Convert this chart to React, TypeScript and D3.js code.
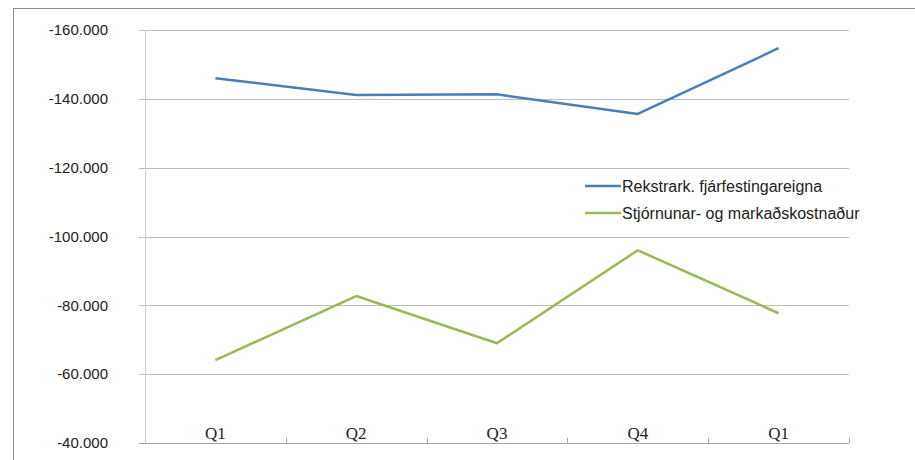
import { useEffect, useRef } from "react";
import * as d3 from "d3";

const categories = ["Q1", "Q2", "Q3", "Q4", "Q1 "];
const seriesNames = ["Rekstrark. fjárfestingareigna", "Stjórnunar- og markaðskostnaður"];
const rekstrarkostnadur = [-146.0, -141.1, -141.3, -135.6, -154.7];
const stjornunarkostnadur = [-64.1, -82.7, -69.0, -96.0, -77.7];
const yTicks = [-160, -140, -120, -100, -80, -60, -40];
const colors = ["#4a7ebb", "#98b954"];

export default function App() {
  const svgRef = useRef<SVGSVGElement>(null);

  useEffect(() => {
    if (!svgRef.current) return;
    const width = 915;
    const height = 460;
    const margin = { top: 30, right: 66, bottom: 17, left: 145 };

    const svg = d3.select(svgRef.current);
    svg.selectAll("*").remove();

    // outer chart border
    svg
      .append("rect")
      .attr("x", 13.5)
      .attr("y", 8.5)
      .attr("width", width)
      .attr("height", height)
      .attr("fill", "white")
      .attr("stroke", "#8c8c8c");

    const x = d3
      .scaleBand<string>()
      .domain(categories)
      .range([margin.left, width - margin.right]);

    const y = d3
      .scaleLinear()
      .domain([-40, -160])
      .range([height - margin.bottom, margin.top]);

    // gridlines
    svg
      .append("g")
      .selectAll("line")
      .data(yTicks)
      .join("line")
      .attr("x1", margin.left - 6)
      .attr("x2", width - margin.right)
      .attr("y1", (d) => Math.round(y(d)) + 0.5)
      .attr("y2", (d) => Math.round(y(d)) + 0.5)
      .attr("stroke", (d) => (d === -40 ? "#a6a6a6" : "#bdbdbd"));

    // y axis line
    svg
      .append("line")
      .attr("x1", margin.left + 0.5)
      .attr("x2", margin.left + 0.5)
      .attr("y1", margin.top)
      .attr("y2", height - margin.bottom)
      .attr("stroke", "#d0d0d0");

    // y labels
    svg
      .append("g")
      .selectAll("text")
      .data(yTicks)
      .join("text")
      .attr("x", 108)
      .attr("y", (d) => y(d))
      .attr("dy", "0.35em")
      .attr("text-anchor", "end")
      .attr("font-family", "Liberation Sans, Arial, sans-serif")
      .attr("font-size", 15)
      .attr("fill", "#222")
      .text((d) => `${d}.000`);

    // x ticks on the axis (pointing up)
    const bounds = categories.map((c) => x(c)! + x.bandwidth());
    svg
      .append("g")
      .selectAll("line")
      .data(bounds)
      .join("line")
      .attr("x1", (d) => Math.round(d) + 0.5)
      .attr("x2", (d) => Math.round(d) + 0.5)
      .attr("y1", y(-40) - 5)
      .attr("y2", y(-40))
      .attr("stroke", "#a6a6a6");

    // x labels
    svg
      .append("g")
      .selectAll("text")
      .data(categories)
      .join("text")
      .attr("x", (d) => x(d)! + x.bandwidth() / 2)
      .attr("y", y(-40) - 4)
      .attr("text-anchor", "middle")
      .attr("font-family", "Liberation Serif, Times New Roman, serif")
      .attr("font-size", 17)
      .attr("fill", "#222")
      .text((d) => d.trim());

    const line = d3
      .line<number>()
      .x((d, i) => x(categories[i])! + x.bandwidth() / 2)
      .y((d) => y(d));

    [rekstrarkostnadur, stjornunarkostnadur].forEach((series, i) => {
      svg
        .append("path")
        .datum(series)
        .attr("fill", "none")
        .attr("stroke", colors[i])
        .attr("stroke-width", 2.5)
        .attr("stroke-linejoin", "round")
        .attr("d", line);
    });

    // legend
    const legend = svg.append("g").attr("transform", "translate(583,173)");
    legend
      .append("rect")
      .attr("x", -3)
      .attr("y", 0)
      .attr("width", 285)
      .attr("height", 54)
      .attr("fill", "white");
    seriesNames.forEach((name, i) => {
      const ly = 13 + i * 27;
      legend
        .append("line")
        .attr("x1", 2)
        .attr("x2", 38)
        .attr("y1", ly)
        .attr("y2", ly)
        .attr("stroke", colors[i])
        .attr("stroke-width", 2.5);
      legend
        .append("text")
        .attr("x", 39)
        .attr("y", ly)
        .attr("dy", "0.35em")
        .attr("font-family", "Liberation Sans, Arial, sans-serif")
        .attr("font-size", 16)
        .attr("fill", "#222")
        .text(name);
    });
  }, []);

  return (
    <svg
      ref={svgRef}
      width={915}
      height={460}
      style={{ position: "absolute", left: 0, top: 0, background: "white" }}
    />
  );
}
